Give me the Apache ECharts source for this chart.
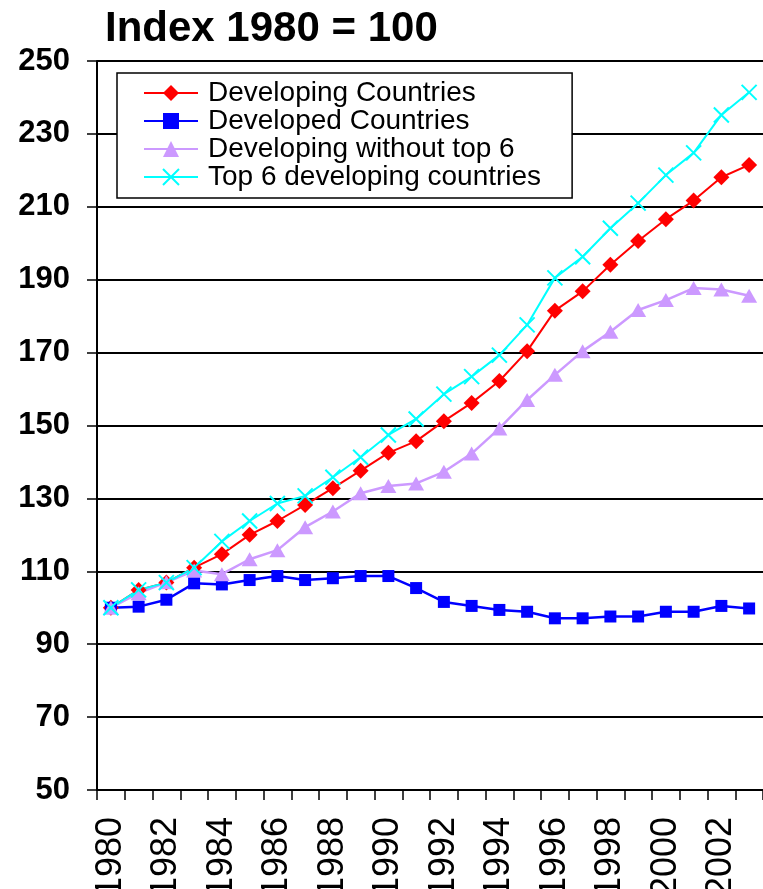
<!DOCTYPE html>
<html>
<head>
<meta charset="utf-8">
<script src="https://cdn.jsdelivr.net/npm/echarts@6/dist/echarts.min.js"></script>
<style>
  html, body { margin: 0; padding: 0; background: #ffffff; }
  #chart { width: 763px; height: 889px; }
</style>
</head>
<body>
<div id="chart"></div>
<script>
const years = ['1980','1981','1982','1983','1984','1985','1986','1987','1988','1989','1990','1991','1992','1993','1994','1995','1996','1997','1998','1999','2000','2001','2002','2003'];
const developing = [100, 104.9, 106.9, 111.0, 114.7, 120.0, 123.8, 128.2, 132.8, 137.6, 142.5, 145.7, 151.2, 156.2, 162.2, 170.4, 181.5, 186.8, 194.1, 200.6, 206.6, 211.7, 218.1, 221.5];
const developed = [100, 100.3, 102.2, 106.7, 106.4, 107.6, 108.7, 107.6, 108.1, 108.7, 108.7, 105.4, 101.6, 100.5, 99.4, 98.9, 97.1, 97.1, 97.6, 97.6, 98.9, 98.9, 100.5, 99.8];
const withoutTop6 = [100, 104.0, 107.0, 110.2, 109.2, 113.3, 115.8, 122.1, 126.4, 131.4, 133.4, 134.1, 137.3, 142.3, 149.2, 157.0, 163.9, 170.4, 175.7, 181.7, 184.4, 187.7, 187.3, 185.6];
const top6 = [100, 104.9, 106.9, 111.0, 118.2, 123.8, 128.6, 130.7, 135.8, 141.3, 147.4, 151.8, 158.6, 163.4, 169.3, 177.6, 190.5, 196.3, 204.1, 211.0, 218.7, 224.8, 235.2, 241.4];
const seriesNames = ['Developing Countries', 'Developed Countries', 'Developing without top 6', 'Top 6 developing countries'];
const yTicks = { min: 50, max: 250, interval: 20 };
const titleText = 'Index 1980 = 100';

const chart = echarts.init(document.getElementById('chart'), null, { renderer: 'canvas' });
const font = '"Liberation Sans", Arial, sans-serif';

const option = {
  animation: false,
  backgroundColor: '#ffffff',
  title: {
    text: titleText,
    left: 105,
    top: 8,
    padding: 0,
    textStyle: { fontFamily: font, fontSize: 42, fontWeight: 'bold', color: '#000' }
  },
  legend: {
    data: seriesNames,
    orient: 'vertical',
    left: 117,
    top: 73,
    padding: [6, 31, 7, 26],
    itemGap: 0,
    itemWidth: 54,
    itemHeight: 20,
    borderColor: '#000',
    borderWidth: 1.5,
    backgroundColor: '#fff',
    textStyle: { fontFamily: font, fontSize: 28, color: '#000', lineHeight: 28, padding: [0, 0, 0, 5] }
  },
  grid: { left: 97, right: 0, top: 61, bottom: 99, containLabel: false, outerBoundsMode: 'none' },
  xAxis: {
    type: 'category',
    data: years,
    boundaryGap: true,
    axisLine: { show: true, lineStyle: { color: '#000', width: 2 } },
    axisTick: { show: true, interval: 0, length: 10, lineStyle: { color: '#000', width: 1.5 } },
    axisLabel: { interval: 1, rotate: 90, margin: 27, fontFamily: font, fontSize: 36, color: '#000' },
    splitLine: { show: false }
  },
  yAxis: {
    type: 'value',
    min: yTicks.min,
    max: yTicks.max,
    interval: yTicks.interval,
    axisLine: { show: true, lineStyle: { color: '#000', width: 2 } },
    axisTick: { show: true, length: 10, lineStyle: { color: '#000', width: 1.5 } },
    axisLabel: { margin: 27, fontFamily: font, fontSize: 31, fontWeight: 'bold', color: '#000' },
    splitLine: { show: true, lineStyle: { color: '#000', width: 2 } }
  },
  series: [
    {
      name: seriesNames[0], type: 'line', data: developing,
      symbol: 'diamond', symbolSize: 16,
      lineStyle: { color: '#FF0000', width: 2 },
      itemStyle: { color: '#FF0000' }
    },
    {
      name: seriesNames[1], type: 'line', data: developed,
      symbol: 'rect', symbolSize: 12,
      lineStyle: { color: '#0000FF', width: 2.5 },
      itemStyle: { color: '#0000FF' }
    },
    {
      name: seriesNames[2], type: 'line', data: withoutTop6,
      symbol: 'triangle', symbolSize: [16, 14],
      lineStyle: { color: '#CC99FF', width: 2.5 },
      itemStyle: { color: '#CC99FF' }
    },
    {
      name: seriesNames[3], type: 'line', data: top6,
      symbol: 'path://M0,0L10,10M10,0L0,10', symbolSize: 15,
      lineStyle: { color: '#00FFFF', width: 2 },
      itemStyle: { color: '#00FFFF', borderColor: '#00FFFF', borderWidth: 2 }
    }
  ]
};
chart.setOption(option);
</script>
</body>
</html>
